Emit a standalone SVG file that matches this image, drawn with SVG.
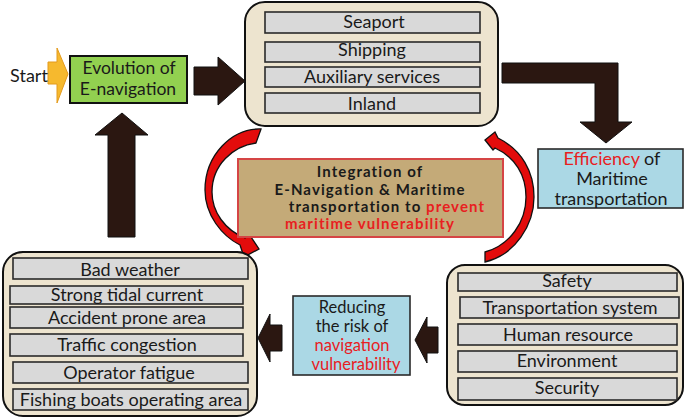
<svg xmlns="http://www.w3.org/2000/svg" width="685" height="418" viewBox="0 0 685 418">
<style>
text{font-family:Lato,"Open Sans","Liberation Sans",sans-serif;font-size:18px;fill:#1a1a1a;text-anchor:middle}
.b{font-weight:bold;font-size:15px;letter-spacing:1.1px}
.m{font-size:17.5px}
.s{font-size:16.5px}
.r{fill:#e8201f}
.outer{fill:#ede4cf;stroke:#111;stroke-width:2}
.bar{fill:#d9d9d9;stroke:#2a2a2a;stroke-width:1.6}
.dark{fill:#2b1711;stroke:#111;stroke-width:1}
.red{fill:#e30c0c;stroke:#111;stroke-width:1.3}
.blue{fill:#abd8e5;stroke:#2a2a2a;stroke-width:1.6}
</style>
<rect width="685" height="418" fill="#fff"/>
<g id="connectors">
  <polygon points="48,62 57,62 57,48 68,74 57,103 57,84 48,84" fill="#f6b92e" stroke="#e39a1c" stroke-width="1"/>
  <polygon class="dark" points="194,67 218,67 218,57 245,81 218,105 218,95 194,95"/>
  <polygon class="dark" points="502,63 618,63 618,122 632,122 606,143 580,122 595,122 595,83 502,83"/>
  <polygon class="dark" points="108,237 108,135 95,135 122,113 148,135 135,135 135,237"/>
  <polygon class="dark" points="438,327 427,327 427,317 415,340 427,363 427,353 438,353"/>
  <polygon class="dark" points="282,325 270,325 270,314 258,338 270,362 270,351 282,351"/>
  <path class="red" d="M261,129 C232,128 205,155 205,190 C205,215 222,236 240,245 L244,257 L259,249 L249,234 L245,238 C225,230 212,212 212,192 C212,165 233,146 256,143 Z"/>
  <path class="red" d="M485,140 L495,132 L498,138 C522,150 534,172 534,197 C534,225 515,255 485,262 L485,252 C510,245 526,222 526,197 C526,175 515,157 495,148 L493,150 Z"/>
</g>
<g id="start">
  <text x="29" y="82">Start</text>
</g>
<g id="evolution">
  <rect x="70" y="56" width="117" height="47" fill="#92d050" stroke="#111" stroke-width="2"/>
  <text class="m" x="129" y="74">Evolution of</text>
  <text class="m" x="128" y="95">E-navigation</text>
</g>
<g id="sectors">
  <rect class="outer" x="245" y="2" width="253" height="124" rx="20"/>
  <rect class="bar" x="265" y="12" width="215" height="21"/>
  <rect class="bar" x="265" y="42" width="215" height="20"/>
  <rect class="bar" x="265" y="67" width="215" height="20"/>
  <rect class="bar" x="265" y="93" width="215" height="20"/>
  <text x="374" y="28">Seaport</text>
  <text x="372" y="56">Shipping</text>
  <text x="372" y="83">Auxiliary services</text>
  <text x="372" y="110">Inland</text>
</g>
<g id="efficiency">
  <rect class="blue" x="538" y="149" width="145" height="59"/>
  <text x="612" y="165"><tspan class="r">Efficiency</tspan> of</text>
  <text x="612" y="185">Maritime</text>
  <text x="611" y="205">transportation</text>
</g>
<g id="integration">
  <rect x="238" y="159" width="265" height="78" fill="#c4aa78" stroke="#d54545" stroke-width="2"/>
  <text class="b" x="370" y="177">Integration of</text>
  <text class="b" x="370" y="195">E-Navigation &amp; Maritime</text>
  <text class="b" x="387" y="212">transportation to <tspan class="r">prevent</tspan></text>
  <text class="b r" x="370" y="229">maritime vulnerability</text>
</g>
<g id="factors">
  <rect class="outer" x="447" y="265" width="236" height="140" rx="18"/>
  <rect class="bar" x="458" y="273" width="219" height="18"/>
  <rect class="bar" x="460" y="297" width="219" height="21"/>
  <rect class="bar" x="458" y="324" width="219" height="21"/>
  <rect class="bar" x="458" y="351" width="219" height="21"/>
  <rect class="bar" x="458" y="378" width="219" height="22"/>
  <text x="567" y="287">Safety</text>
  <text x="570" y="314">Transportation system</text>
  <text x="568" y="341">Human resource</text>
  <text x="567" y="367">Environment</text>
  <text x="567" y="394">Security</text>
</g>
<g id="reducing">
  <rect class="blue" x="293" y="296" width="117" height="79"/>
  <text class="s" x="352" y="313">Reducing</text>
  <text class="s" x="352" y="332">the risk of</text>
  <text class="s r" x="352" y="351">navigation</text>
  <text class="s r" x="356" y="370">vulnerability</text>
</g>
<g id="hazards">
  <rect class="outer" x="3" y="252" width="254" height="164" rx="20"/>
  <rect class="bar" x="13" y="258" width="235" height="21"/>
  <rect class="bar" x="10" y="286" width="233" height="18"/>
  <rect class="bar" x="10" y="307" width="233" height="21"/>
  <rect class="bar" x="10" y="334" width="233" height="22"/>
  <rect class="bar" x="13" y="362" width="235" height="21"/>
  <rect class="bar" x="13" y="389" width="235" height="21"/>
  <text x="130" y="276">Bad weather</text>
  <text x="127" y="301">Strong tidal current</text>
  <text x="127" y="324">Accident prone area</text>
  <text x="127" y="351">Traffic congestion</text>
  <text x="129" y="379">Operator fatigue</text>
  <text x="131" y="406">Fishing boats operating area</text>
</g>
</svg>
